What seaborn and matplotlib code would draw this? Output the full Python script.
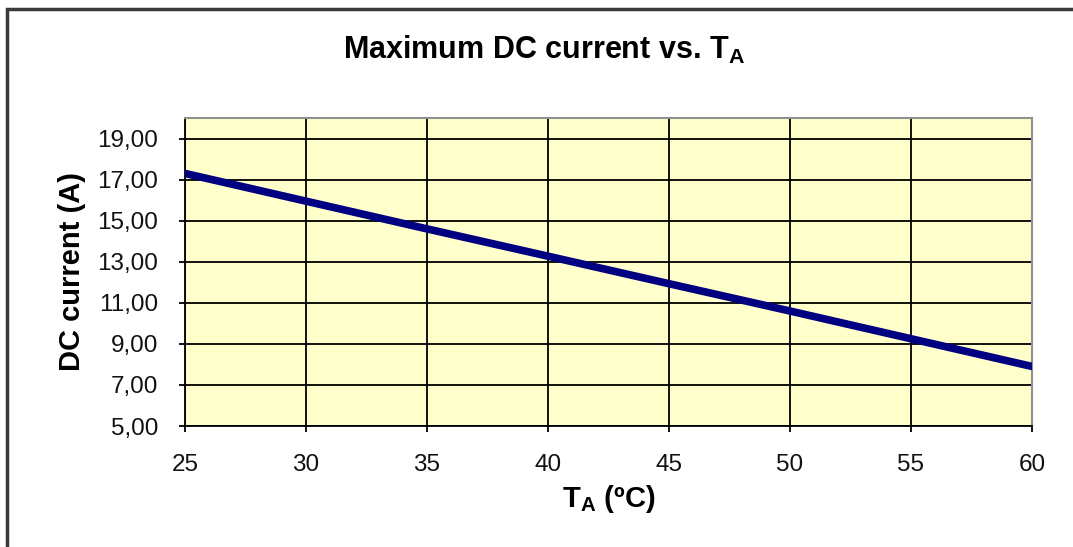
import matplotlib
matplotlib.use("Agg")
import matplotlib.pyplot as plt
import seaborn as sns
import pandas as pd
from matplotlib.patches import Rectangle

# data
temp_c = [25, 30, 35, 40, 45, 50, 55, 60]
dc_current = [17.30, 15.95, 14.60, 13.27, 11.93, 10.60, 9.25, 7.90]
x_ticks = [25, 30, 35, 40, 45, 50, 55, 60]
y_ticks = [5, 7, 9, 11, 13, 15, 17, 19]

df = pd.DataFrame({"T": temp_c, "I": dc_current})

sns.set_style("white")
plt.rcParams["font.family"] = ["Liberation Sans", "DejaVu Sans"]
plt.rcParams["text.color"] = "black"
plt.rcParams["axes.labelcolor"] = "black"
plt.rcParams["mathtext.fontset"] = "custom"
plt.rcParams["mathtext.rm"] = "Liberation Sans"
plt.rcParams["mathtext.bf"] = "Liberation Sans:bold"

fig = plt.figure(figsize=(10.73, 5.47), dpi=100)
fig.patch.set_facecolor("white")
ax = fig.add_axes([185 / 1073, 1 - 426 / 547, (1032 - 185) / 1073, (426 - 118) / 547])
ax.set_facecolor("#FFFFCC")

# outer chart frame (runs off right/bottom like the screenshot)
fig.patches.append(Rectangle((7 / 1073, -0.05), 1.1, 1 - 9 / 547 + 0.05,
                             transform=fig.transFigure, fill=False,
                             edgecolor="#3a3a3a", linewidth=2.5, zorder=0))

sns.lineplot(data=df, x="T", y="I", ax=ax, color="#000080", linewidth=5.5, zorder=3)

ax.set_xlim(25, 60)
ax.set_ylim(5, 20)
ax.set_xticks(x_ticks)
ax.set_yticks(y_ticks)
ax.set_yticklabels([f"{v:.2f}".replace(".", ",") for v in y_ticks])
ax.grid(True, color="black", linewidth=1.3, zorder=1)
ax.set_axisbelow(True)

for side in ["left", "bottom"]:
    ax.spines[side].set_color("black")
    ax.spines[side].set_linewidth(1.3)
for side in ["top", "right"]:
    ax.spines[side].set_color("#909090")
    ax.spines[side].set_linewidth(1.5)

ax.tick_params(axis="both", direction="out", length=4.5, width=1.3, color="black",
               labelsize=17.5, labelcolor="#111111", left=True, bottom=True)
ax.tick_params(axis="x", pad=16)
ax.tick_params(axis="y", pad=15)

ax.set_xlabel(r"$\mathbf{T_A}$ (ºC)", fontsize=21, fontweight="bold", labelpad=5)
ax.set_ylabel("DC current (A)", fontsize=21, fontweight="bold", labelpad=8)

fig.text(0.507, 1 - 50 / 547, r"Maximum DC current vs. $\mathbf{T_A}$",
         ha="center", va="center", fontsize=22, fontweight="bold")

fig.savefig("out.png", dpi=100)
